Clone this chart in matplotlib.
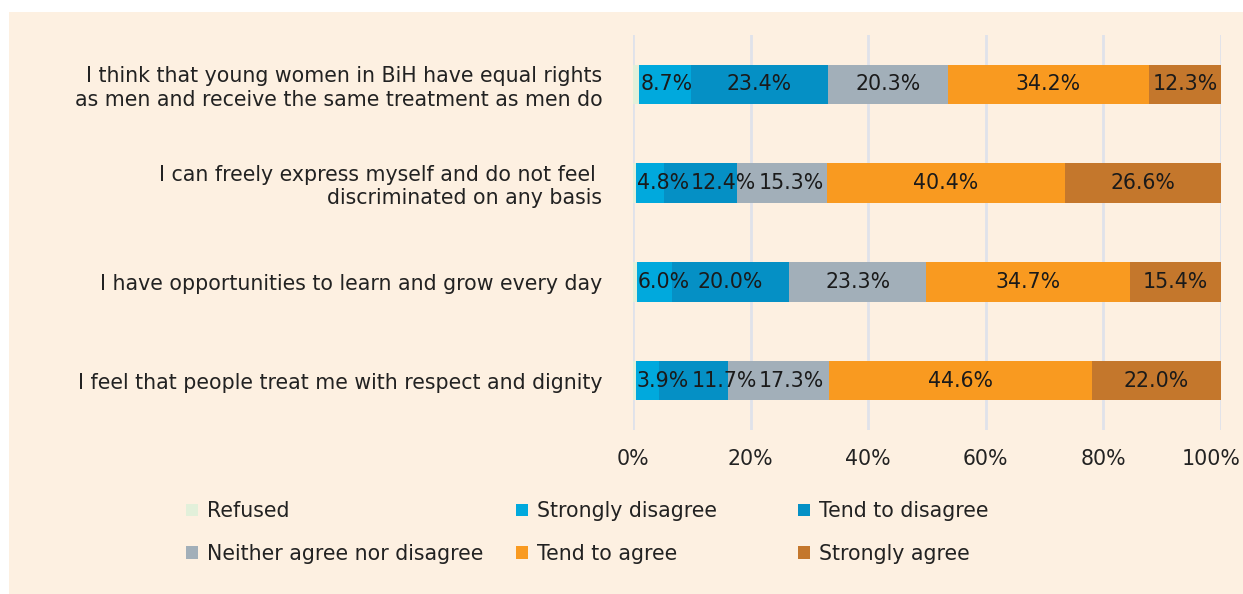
import matplotlib
matplotlib.use("Agg")
import matplotlib.pyplot as plt
import matplotlib.transforms as mtransforms
from matplotlib.patches import Rectangle, Patch

plt.rcParams['font.family'] = ['DejaVu Sans']

categories = [
    "I think that young women in BiH have equal rights\nas men and receive the same treatment as men do",
    "I can freely express myself and do not feel \ndiscriminated on any basis",
    "I have opportunities to learn and grow every day",
    "I feel that people treat me with respect and dignity",
]
series_names = ["Refused", "Strongly disagree", "Tend to disagree",
                "Neither agree nor disagree", "Tend to agree", "Strongly agree"]
refused = [1.1, 0.5, 0.6, 0.5]
strongly_disagree = [8.7, 4.8, 6.0, 3.9]
tend_disagree = [23.4, 12.4, 20.0, 11.7]
neither = [20.3, 15.3, 23.3, 17.3]
tend_agree = [34.2, 40.4, 34.7, 44.6]
strongly_agree = [12.3, 26.6, 15.4, 22.0]
xticks = [0, 20, 40, 60, 80, 100]
xtick_labels = ["0%", "20%", "40%", "60%", "80%", "100%"]

colors = ["#e2f0da", "#00a9dd", "#0590c5", "#a2afb9", "#f99a20", "#c4772c"]
series = [refused, strongly_disagree, tend_disagree, neither, tend_agree, strongly_agree]

W, H = 1243, 594
fig = plt.figure(figsize=(W / 100, H / 100), dpi=100, facecolor="white")
bg = "#fdf0e1"
fig.patches.append(Rectangle((9 / W, 0), 1 - 9 / W, 1 - 12 / H, transform=fig.transFigure,
                             facecolor=bg, edgecolor="none", zorder=-10))

ax = fig.add_axes([633 / W, 1 - 430 / H, (1221 - 633) / W, (430 - 35) / H])
ax.set_facecolor("none")
y = list(range(len(categories)))
left = [0.0] * len(categories)
fs = 14.8
labels_by_row = [[] for _ in categories]
for i, (vals, col) in enumerate(zip(series, colors)):
    ax.barh(y, vals, left=left, height=0.4, color=col, edgecolor="none", zorder=3)
    if i > 0:
        for j, (v, l) in enumerate(zip(vals, left)):
            t = ax.text(l + v / 2, y[j], f"{v:.1f}%", ha="center", va="center",
                        fontsize=fs, color="#1a1a1a", zorder=4)
            labels_by_row[j].append(t)
    left = [a + b for a, b in zip(left, vals)]

ax.set_xlim(0, 100)
ax.set_ylim(3.5, -0.5)
ax.set_xticks(xticks)
ax.set_xticklabels(xtick_labels, fontsize=fs, color="#222222")
ax.set_yticks(y)
ax.set_yticklabels(categories, fontsize=fs, color="#222222", linespacing=1.2)
ax.tick_params(axis="x", length=0, pad=14)
ax.tick_params(axis="y", length=0, pad=22)
ax.grid(axis="x", color="#dfe2ea", linewidth=2, zorder=0)
for s in ax.spines.values():
    s.set_visible(False)
# keep the last tick label inside the panel
last = ax.get_xticklabels()[-1]
last.set_transform(last.get_transform() + mtransforms.ScaledTranslation(-10 / 100, 0, fig.dpi_scale_trans))

# avoid overlapping data labels: keep them inside the bar start and push right
fig.canvas.draw()
r = fig.canvas.get_renderer()
inv = ax.transData.inverted()
for j, texts in enumerate(labels_by_row):
    bar_start_px = ax.transData.transform((refused[j], 0))[0]
    prev_right = bar_start_px + 1
    for k, t in enumerate(texts):
        bb = t.get_window_extent(r)
        gap = 2 if k > 0 else 0
        shift = max(0, prev_right + gap - bb.x0)
        if shift > 0:
            cx = (bb.x0 + bb.x1) / 2 + shift
            t.set_x(inv.transform((cx, 0))[0])
        prev_right = bb.x1 + shift

# legend: three columns
cols = [[0, 3], [1, 4], [2, 5]]
xs = [178 / W, 508 / W, 790 / W]
for xpos, idxs in zip(xs, cols):
    handles = [Patch(facecolor=colors[k], edgecolor="none") for k in idxs]
    labels = [series_names[k] for k in idxs]
    fig.legend(handles, labels, loc="upper left", bbox_to_anchor=(xpos, 1 - 493 / H),
               frameon=False, fontsize=fs, handlelength=0.55, handleheight=0.55,
               handletextpad=0.45, labelspacing=1.1, borderaxespad=0,
               labelcolor="#222222")

fig.savefig("out.png", dpi=100, facecolor="white")
